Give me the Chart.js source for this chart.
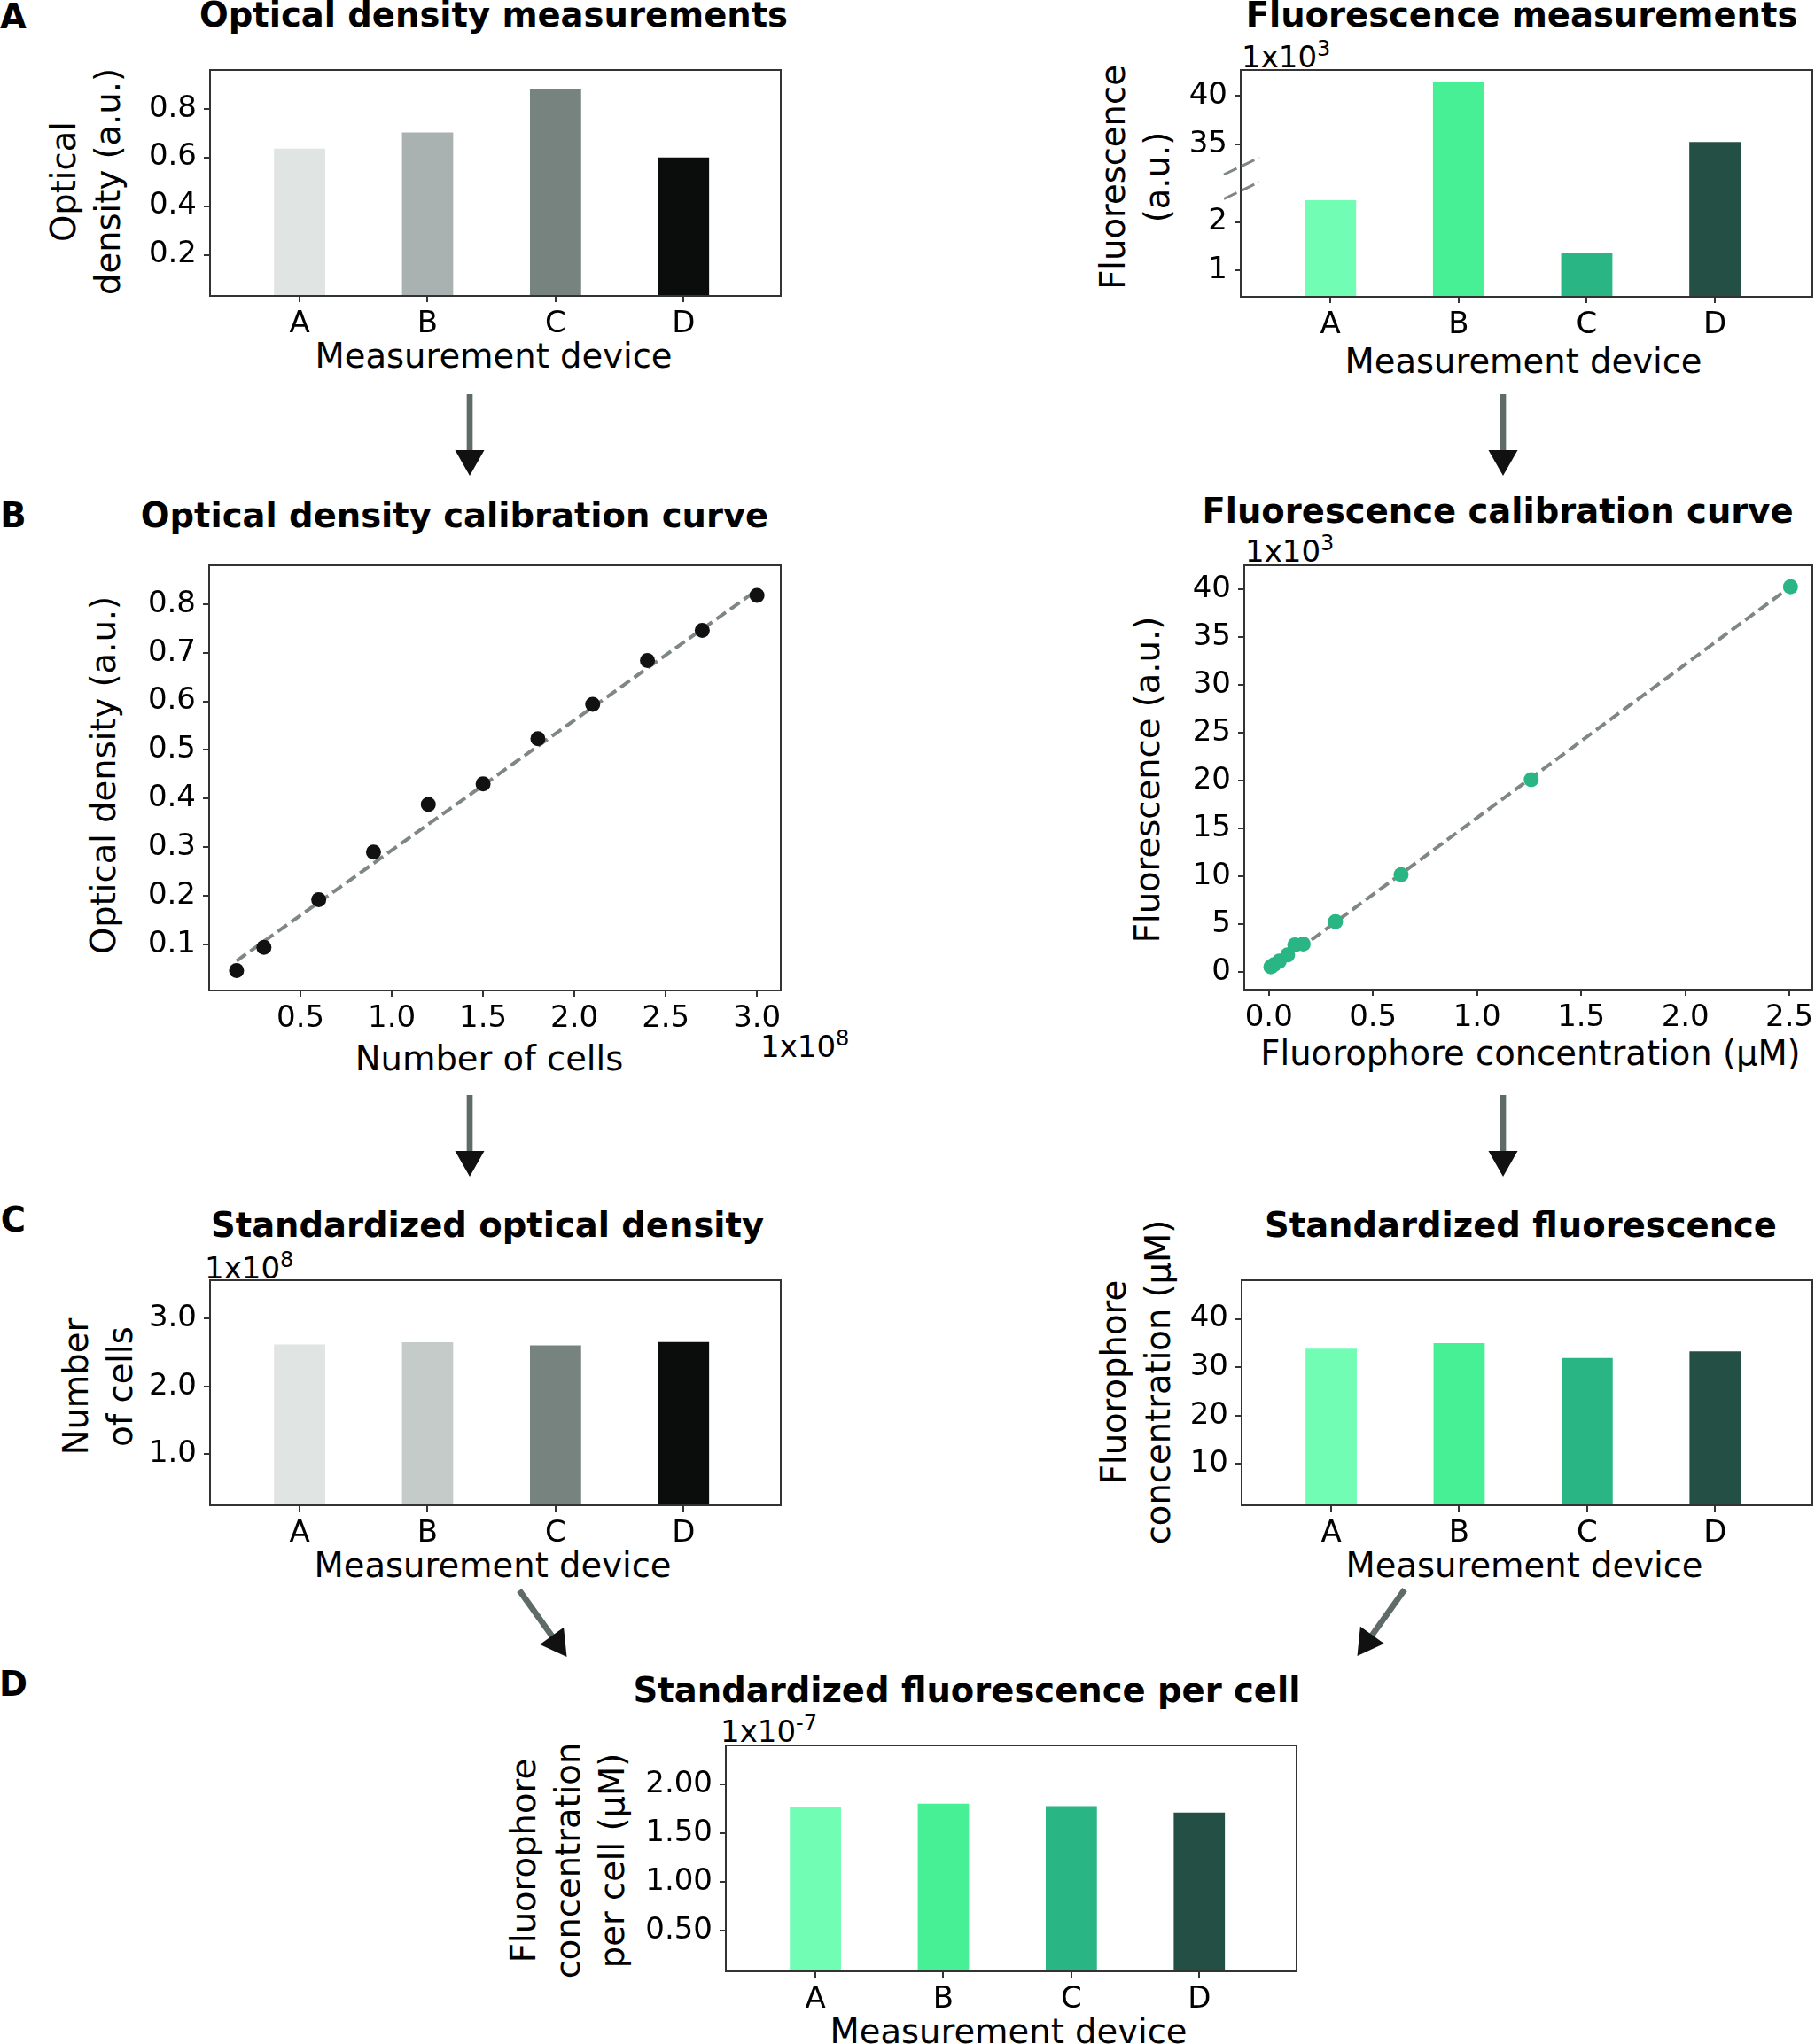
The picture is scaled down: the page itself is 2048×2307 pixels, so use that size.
<!DOCTYPE html>
<html>
<head>
<meta charset="utf-8">
<title>Standardization workflow</title>
<script src="https://cdn.jsdelivr.net/npm/chart.js@4.4.1/dist/chart.umd.min.js"></script>
<style>
  html, body { margin: 0; padding: 0; background: #fff; overflow: hidden; }
  #fig { position: relative; width: 2048px; height: 2307px; overflow: hidden; font-family: 'DejaVu Sans', sans-serif; color: #000; }
  #fig canvas, #fig svg { position: absolute; }
  .txt { position: absolute; white-space: nowrap; line-height: 1.2; transform: translate(-50%, -50%); }
  .ttl { font-weight: bold; font-size: 38.5px; }
  .lab { font-size: 38.5px; }
  .ylab { position: absolute; white-space: nowrap; font-size: 38.5px; line-height: 50px; text-align: center; transform: translate(-50%, -50%) rotate(-90deg); }
  .sci { position: absolute; font-size: 34px; line-height: 34px; white-space: nowrap; }
  .sci sup { font-size: 24px; line-height: 0; vertical-align: baseline; position: relative; top: -13px; }
</style>
</head>
<body>
<div id="fig">
  <!-- panel letters -->
  <div class="txt ttl" style="left:15px;top:19px">A</div>
  <div class="txt ttl" style="left:15px;top:582px">B</div>
  <div class="txt ttl" style="left:15px;top:1377px">C</div>
  <div class="txt ttl" style="left:15px;top:1901px">D</div>

  <!-- titles -->
  <div class="txt ttl" style="left:557px;top:17px">Optical density measurements</div>
  <div class="txt ttl" style="left:1717px;top:17px">Fluorescence measurements</div>
  <div class="txt ttl" style="left:513px;top:582px">Optical density calibration curve</div>
  <div class="txt ttl" style="left:1690px;top:577px">Fluorescence calibration curve</div>
  <div class="txt ttl" style="left:550px;top:1383px">Standardized optical density</div>
  <div class="txt ttl" style="left:1716px;top:1383px">Standardized fluorescence</div>
  <div class="txt ttl" style="left:1091px;top:1908px">Standardized fluorescence per cell</div>

  <!-- x axis labels -->
  <div class="txt lab" style="left:557px;top:402px">Measurement device</div>
  <div class="txt lab" style="left:1719px;top:408px">Measurement device</div>
  <div class="txt lab" style="left:552px;top:1195px">Number of cells</div>
  <div class="txt lab" style="left:1727px;top:1189px">Fluorophore concentration (μM)</div>
  <div class="txt lab" style="left:556px;top:1767px">Measurement device</div>
  <div class="txt lab" style="left:1720px;top:1767px">Measurement device</div>
  <div class="txt lab" style="left:1138px;top:2293px">Measurement device</div>

  <!-- y axis labels -->
  <div class="ylab" style="left:97px;top:205px">Optical<br>density (a.u.)</div>
  <div class="ylab" style="left:1281px;top:200px">Fluorescence<br>(a.u.)</div>
  <div class="ylab" style="left:117px;top:875px">Optical density (a.u.)</div>
  <div class="ylab" style="left:1295px;top:880px">Fluorescence (a.u.)</div>
  <div class="ylab" style="left:111px;top:1565px">Number<br>of cells</div>
  <div class="ylab" style="left:1282px;top:1560px">Fluorophore<br>concentration (μM)</div>
  <div class="ylab" style="left:641px;top:2100px">Fluorophore<br>concentration<br>per cell (μM)</div>

  <!-- axis multipliers -->
  <div class="sci" style="left:1401px;top:47px">1x10<sup>3</sup></div>
  <div class="sci" style="left:1405px;top:605px">1x10<sup>3</sup></div>
  <div class="sci" style="left:858px;top:1164px">1x10<sup>8</sup></div>
  <div class="sci" style="left:231px;top:1414px">1x10<sup>8</sup></div>
  <div class="sci" style="left:813px;top:1937px">1x10<sup>-7</sup></div>
</div>

<script>
Chart.defaults.font.family = "'DejaVu Sans', sans-serif";
const FONT = "'DejaVu Sans', sans-serif";

// ---- values ----
const devices = ['A', 'B', 'C', 'D'];
const odMeasured = [0.636, 0.702, 0.881, 0.600];
const fluoMeasured = [2.45, 41.35, 1.36, 35.26];          // x10^3 a.u.
const cellNumber = [0.15, 0.3, 0.6, 0.9, 1.2, 1.5, 1.8, 2.1, 2.4, 2.7, 3.0];   // x10^8
const odCalibration = [0.046, 0.094, 0.192, 0.290, 0.388, 0.430, 0.523, 0.594, 0.684, 0.746, 0.818];
const odFitX = [0.15, 3.0];
const odFitY = [0.066, 0.829];
const fluorophoreConc = [0.01, 0.025, 0.05, 0.09, 0.125, 0.165, 0.32, 0.635, 1.26, 2.505];  // uM
const fluoCalibration = [0.5, 0.75, 1.1, 1.75, 2.8, 2.9, 5.25, 10.15, 20.1, 40.3];      // x10^3 a.u.
const fluoFitX = [0.01, 2.505];
const fluoFitY = [0.2, 40.3];
const cellsStandardized = [2.62, 2.65, 2.605, 2.655];     // x10^8
const fluoStandardized = [33.85, 35.0, 31.9, 33.3];       // uM
const fluoPerCell = [1.77, 1.80, 1.775, 1.71];            // x10^-7 uM

// ---- tick labels ----
const odBarTicks = [0.2, 0.4, 0.6, 0.8];
const fluoBarTicks = [1, 2, 35, 40];
const odCalYTicks = [0.1, 0.2, 0.3, 0.4, 0.5, 0.6, 0.7, 0.8];
const odCalXTicks = [0.5, 1.0, 1.5, 2.0, 2.5, 3.0];
const fluoCalYTicks = [0, 5, 10, 15, 20, 25, 30, 35, 40];
const fluoCalXTicks = [0.0, 0.5, 1.0, 1.5, 2.0, 2.5];
const cellTicks = [1.0, 2.0, 3.0];
const concTicks = [10, 20, 30, 40];
const perCellTicks = [0.5, 1.0, 1.5, 2.0];

const grays = ['#e0e4e3', '#a9b2b0', '#77837f', '#0b0d0c'];
const graysStd = ['#e0e4e3', '#c5cbc9', '#77837f', '#0b0d0c'];
const greens = ['#72fdb5', '#47ef95', '#2ab584', '#234f45'];

// broken y axis of the raw fluorescence panel (two linear pieces)
const fluoLowRange = [0.456, 2.87];
const fluoHighRange = [31.4, 42.6];
const FLUO_LOW_SHARE = 0.5156;   // part of the axis height given to the low piece

class BrokenScale extends Chart.LinearScale {
  splitPixel() {
    return this.bottom - (this.bottom - this.top) * FLUO_LOW_SHARE;
  }
  getPixelForValue(v) {
    const split = this.splitPixel();
    if (v <= fluoLowRange[1]) {
      return this.bottom - (v - fluoLowRange[0]) / (fluoLowRange[1] - fluoLowRange[0]) * (this.bottom - split);
    }
    if (v >= fluoHighRange[0]) {
      return split - (v - fluoHighRange[0]) / (fluoHighRange[1] - fluoHighRange[0]) * (split - this.top);
    }
    return split;
  }
  getValueForPixel(p) {
    const split = this.splitPixel();
    if (p >= split) {
      return fluoLowRange[0] + (this.bottom - p) / (this.bottom - split) * (fluoLowRange[1] - fluoLowRange[0]);
    }
    return fluoHighRange[0] + (split - p) / (split - this.top) * (fluoHighRange[1] - fluoHighRange[0]);
  }
}
BrokenScale.id = 'brokenLinear';
BrokenScale.defaults = Chart.LinearScale.defaults;
Chart.register(BrokenScale);

const fig = document.getElementById('fig');
const PAD = { l: 120, t: 40, r: 40, b: 70 };

function mount(box) {
  const c = document.createElement('canvas');
  const w = box.r - box.l + PAD.l + PAD.r;
  const h = box.b - box.t + PAD.t + PAD.b;
  c.width = w;
  c.height = h;
  c.style.left = (box.l - PAD.l) + 'px';
  c.style.top = (box.t - PAD.t) + 'px';
  c.style.width = w + 'px';
  c.style.height = h + 'px';
  fig.appendChild(c);
  return c;
}

// spines all round, like the matplotlib boxes
const frame = {
  id: 'frame',
  afterDraw(chart) {
    const { ctx, chartArea: a } = chart;
    ctx.save();
    ctx.strokeStyle = '#333';
    ctx.lineWidth = 2;
    ctx.strokeRect(a.left, a.top, a.right - a.left, a.bottom - a.top);
    ctx.restore();
  }
};

const breakMarks = {
  id: 'breakMarks',
  afterDraw(chart) {
    const { ctx, chartArea: a } = chart;
    const split = a.bottom - (a.bottom - a.top) * FLUO_LOW_SHARE;
    ctx.save();
    ctx.strokeStyle = '#7f8784';
    ctx.lineWidth = 3;
    ctx.setLineDash([16, 6]);
    [split - 15.5, split + 12].forEach(yc => {
      ctx.beginPath();
      ctx.moveTo(a.left - 19, yc + 9.5);
      ctx.lineTo(a.left + 21, yc - 9.5);
      ctx.stroke();
    });
    ctx.restore();
  }
};

function axis(min, max, ticks, fmt, side) {
  return {
    type: 'linear',
    min: min,
    max: max,
    offset: false,
    afterBuildTicks: s => { s.ticks = ticks.map(v => ({ value: v })); },
    afterFit: s => { if (side === 'x') s.height = PAD.b; else s.width = PAD.l; },
    ticks: {
      callback: fmt, autoSkip: false, maxRotation: 0, minRotation: 0,
      padding: side === 'x' ? 5 : 8, color: '#000', font: { family: FONT, size: 34 }
    },
    grid: { offset: false, drawOnChartArea: false, drawTicks: true, tickLength: 7, lineWidth: 2, color: '#333' },
    border: { display: false }
  };
}

const common = {
  responsive: false,
  animation: false,
  events: [],
  layout: { padding: { left: 0, top: PAD.t, right: PAD.r, bottom: 0 } },
  plugins: { legend: { display: false }, tooltip: { enabled: false } }
};

function barChart(box, values, colors, yAxis, extra) {
  return new Chart(mount(box), {
    type: 'bar',
    data: {
      datasets: [{
        data: values.map((v, i) => ({ x: i, y: v })),
        backgroundColor: colors,
        barPercentage: 0.4,
        categoryPercentage: 1,
        clip: 0
      }]
    },
    options: Object.assign({}, common, {
      scales: {
        x: axis(-0.7, 3.76, devices.map((d, i) => i), v => devices[v], 'x'),
        y: yAxis
      }
    }),
    plugins: [frame].concat(extra || [])
  });
}

function calChart(box, xs, ys, fitX, fitY, color, xAxis, yAxis) {
  return new Chart(mount(box), {
    type: 'scatter',
    data: {
      datasets: [{
        data: xs.map((x, i) => ({ x: x, y: ys[i] })),
        backgroundColor: color,
        borderColor: color,
        pointRadius: 8.5,
        pointBorderWidth: 0
      }, {
        data: fitX.map((x, i) => ({ x: x, y: fitY[i] })),
        showLine: true,
        borderColor: '#7f8784',
        borderWidth: 4,
        borderDash: [13, 6],
        pointRadius: 0
      }]
    },
    options: Object.assign({}, common, { scales: { x: xAxis, y: yAxis } }),
    plugins: [frame]
  });
}

const f1 = v => v.toFixed(1);
const f2 = v => v.toFixed(2);
const f0 = v => String(v);

// A: raw measurements
barChart({ l: 237, t: 79, r: 881, b: 334 }, odMeasured, grays,
  axis(0.031, 0.959, odBarTicks, f1, 'y'));
const fluoY = axis(fluoLowRange[0], fluoHighRange[1], fluoBarTicks, f0, 'y');
fluoY.type = 'brokenLinear';
barChart({ l: 1400, t: 79, r: 2045, b: 335 }, fluoMeasured, greens, fluoY, [breakMarks]);

// B: calibration curves
calChart({ l: 236, t: 638, r: 881, b: 1118 }, cellNumber, odCalibration, odFitX, odFitY, '#111',
  axis(0, 3.13, odCalXTicks, f1, 'x'), axis(0.005, 0.88, odCalYTicks, f1, 'y'));
calChart({ l: 1404, t: 638, r: 2045, b: 1117 }, fluorophoreConc, fluoCalibration, fluoFitX, fluoFitY, '#2ab584',
  axis(-0.118, 2.61, fluoCalXTicks, f1, 'x'), axis(-1.88, 42.55, fluoCalYTicks, f0, 'y'));

// C: standardized values
barChart({ l: 237, t: 1445, r: 881, b: 1699 }, cellsStandardized, graysStd,
  axis(0.249, 3.565, cellTicks, f1, 'y'));
barChart({ l: 1401, t: 1445, r: 2045, b: 1699 }, fluoStandardized, greens,
  axis(1.48, 47.99, concTicks, f0, 'y'));

// D: per cell
barChart({ l: 819, t: 1970, r: 1463, b: 2225 }, fluoPerCell, greens,
  axis(0.081, 2.398, perCellTicks, f2, 'y'));

// workflow arrows
const svgNS = 'http://www.w3.org/2000/svg';
const svg = document.createElementNS(svgNS, 'svg');
svg.setAttribute('width', 2048);
svg.setAttribute('height', 2307);
svg.style.left = '0px';
svg.style.top = '0px';
fig.appendChild(svg);

function arrow(x1, y1, x2, y2) {
  const dx = x2 - x1, dy = y2 - y1, len = Math.hypot(dx, dy);
  const ux = dx / len, uy = dy / len;
  const hx = x2 - ux * 29, hy = y2 - uy * 29;
  const px = -uy * 16.5, py = ux * 16.5;
  const line = document.createElementNS(svgNS, 'line');
  line.setAttribute('x1', x1); line.setAttribute('y1', y1);
  line.setAttribute('x2', hx + ux * 2); line.setAttribute('y2', hy + uy * 2);
  line.setAttribute('stroke', '#5e6b68');
  line.setAttribute('stroke-width', 6.7);
  svg.appendChild(line);
  const head = document.createElementNS(svgNS, 'polygon');
  head.setAttribute('points', `${x2},${y2} ${hx + px},${hy + py} ${hx - px},${hy - py}`);
  head.setAttribute('fill', '#111');
  svg.appendChild(head);
}

arrow(530, 445, 530, 537);
arrow(1696, 445, 1696, 537);
arrow(530, 1236, 530, 1328);
arrow(1696, 1236, 1696, 1328);
arrow(586, 1795, 639.5, 1870);
arrow(1585, 1794, 1531.5, 1869);
</script>
</body>
</html>
